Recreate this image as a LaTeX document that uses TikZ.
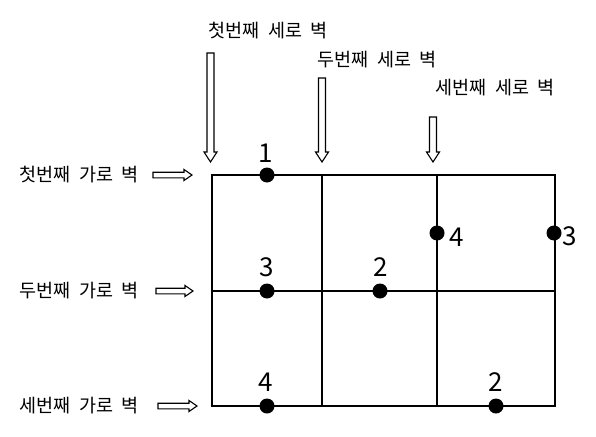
\documentclass[tikz,border=0pt]{standalone}
\usepackage{fontspec}
\setmainfont{Noto Sans CJK KR}[WordSpace=2]
\begin{document}
\begin{tikzpicture}[x=1pt,y=-1pt,
  wall/.style={line width=1.2pt},
  dotm/.style={circle,fill=black,inner sep=0pt,minimum size=15pt},
  num/.style={font=\fontsize{26}{26}\selectfont,inner sep=0pt},
  lab/.style={font=\fontsize{18.5}{19}\selectfont,inner sep=0pt},
  harrow/.style={line width=1.1pt,fill=white,line join=miter},
]
\useasboundingbox (0,0) rectangle (596,436);
% grid corners
\coordinate (A1) at (212,175);
\coordinate (A2) at (322,175);
\coordinate (A3) at (437,175);
\coordinate (A4) at (555,175);
\coordinate (B1) at (212,291);
\coordinate (B4) at (555,291);
\coordinate (C1) at (212,406);
\coordinate (C2) at (322,406);
\coordinate (C3) at (437,406);
\coordinate (C4) at (555,406);
\draw[wall] (A1) rectangle (C4);
\draw[wall] (B1) -- (B4);
\draw[wall] (A2) -- (C2);
\draw[wall] (A3) -- (C3);
% dots
\node[dotm] (d1) at (267,175) {};
\node[dotm] (d2) at (267,291) {};
\node[dotm] (d3) at (267,406) {};
\node[dotm] (d4) at (380,291) {};
\node[dotm] (d5) at (437,233) {};
\node[dotm] (d6) at (554,233) {};
\node[dotm] (d7) at (496,406) {};
\node[num,anchor=base] (n1) at (266,162) {1};
\node[num,anchor=base] (n2) at (267,276) {3};
\node[num,anchor=base] (n3) at (266,391) {4};
\node[num,anchor=base] (n4) at (381,276) {2};
\node[num,anchor=base] (n5) at (457,246) {4};
\node[num,anchor=base] (n6) at (570,245) {3};
\node[num,anchor=base] (n7) at (496,391) {2};
% vertical wall labels
\node[lab] (v1) at (268,31) {첫번째 세로 벽};
\node[lab] (v2) at (377,60) {두번째 세로 벽};
\node[lab] (v3) at (495,88) {세번째 세로 벽};
% horizontal wall labels
\node[lab] (h1) at (79,175) {첫번째 가로 벽};
\node[lab] (h2) at (79,291) {두번째 가로 벽};
\node[lab] (h3) at (79,406) {세번째 가로 벽};
% vertical hollow arrows
\foreach \x/\t in {210.5/53, 322/78, 433/117}{
  \draw[harrow] (\x-3.5,\t) -- (\x-3.5,152) -- (\x-6.5,152) -- (\x,162)
     -- (\x+6.5,152) -- (\x+3.5,152) -- (\x+3.5,\t) -- cycle;
}
% horizontal hollow arrows
\foreach \a/\b/\y in {153/192/175, 156/193/291, 158/197/406}{
  \draw[harrow] (\a,\y-2.8) -- (\b-8,\y-2.8) -- (\b-8,\y-5.5) -- (\b,\y)
     -- (\b-8,\y+5.5) -- (\b-8,\y+2.8) -- (\a,\y+2.8) -- cycle;
}
\end{tikzpicture}
\end{document}
